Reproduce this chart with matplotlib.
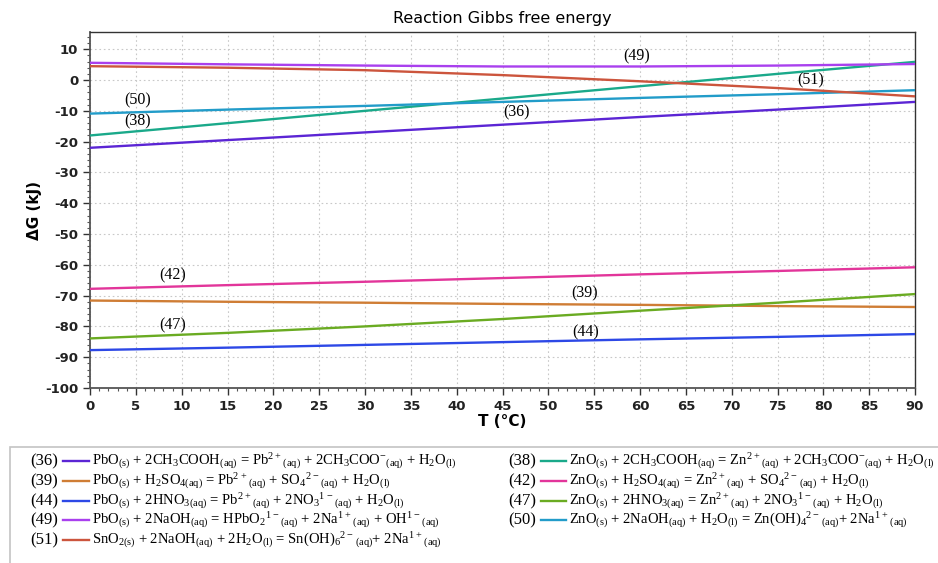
import matplotlib.pyplot as plt
import numpy as np
from matplotlib.lines import Line2D
from matplotlib.ticker import MultipleLocator

plt.rcParams['mathtext.default'] = 'regular'
plt.rcParams['axes.unicode_minus'] = False

# temperature (degC) and dG (kJ)
T = [0, 15, 30, 45, 60, 75, 90]
dG_36 = [-22.0, -19.5, -17.0, -14.5, -12.0, -9.6, -7.1]
dG_38 = [-18.0, -14.0, -10.0, -6.0, -2.0, 2.0, 5.9]
dG_39 = [-71.6, -72.0, -72.3, -72.7, -73.0, -73.4, -73.7]
dG_42 = [-67.8, -66.6, -65.5, -64.3, -63.1, -62.0, -60.8]
dG_44 = [-87.7, -86.9, -86.0, -85.1, -84.2, -83.4, -82.5]
dG_47 = [-83.9, -82.1, -80.0, -77.6, -74.9, -72.3, -69.5]
dG_49 = [5.6, 5.1, 4.7, 4.4, 4.4, 4.7, 5.2]
dG_50 = [-10.9, -9.6, -8.4, -7.1, -5.8, -4.6, -3.3]
dG_51 = [4.5, 4.0, 3.2, 1.6, -0.4, -2.6, -5.3]

ids = ['36', '38', '39', '42', '44', '47', '49', '50', '51']
series = [dG_36, dG_38, dG_39, dG_42, dG_44, dG_47, dG_49, dG_50, dG_51]
colors = ['#5b25d4', '#1aa98a', '#cf7d35', '#e2359a', '#2d48e6',
          '#6aab22', '#a940ee', '#229cc9', '#cc553d']

# label positions (T, dG)
lab_T = [46.5, 5.2, 53.9, 9.0, 54.1, 9.0, 59.6, 5.2, 78.6]
lab_G = [-10.6, -13.5, -69.3, -63.4, -82.1, -79.6, 7.7, -6.7, -0.1]

equations = {
    '36': r'PbO$_{(s)}$ + 2CH$_3$COOH$_{(aq)}$ = Pb$^{2+}$$_{(aq)}$ + 2CH$_3$COO$^{-}$$_{(aq)}$ + H$_2$O$_{(l)}$',
    '39': r'PbO$_{(s)}$ + H$_2$SO$_{4(aq)}$ = Pb$^{2+}$$_{(aq)}$ + SO$_4$$^{2-}$$_{(aq)}$ + H$_2$O$_{(l)}$',
    '44': r'PbO$_{(s)}$ + 2HNO$_{3(aq)}$ = Pb$^{2+}$$_{(aq)}$ + 2NO$_3$$^{1-}$$_{(aq)}$ + H$_2$O$_{(l)}$',
    '49': r'PbO$_{(s)}$ + 2NaOH$_{(aq)}$ = HPbO$_2$$^{1-}$$_{(aq)}$ + 2Na$^{1+}$$_{(aq)}$ + OH$^{1-}$$_{(aq)}$',
    '51': r'SnO$_{2(s)}$ + 2NaOH$_{(aq)}$ + 2H$_2$O$_{(l)}$ = Sn(OH)$_6$$^{2-}$$_{(aq)}$+ 2Na$^{1+}$$_{(aq)}$',
    '38': r'ZnO$_{(s)}$ + 2CH$_3$COOH$_{(aq)}$ = Zn$^{2+}$$_{(aq)}$ + 2CH$_3$COO$^{-}$$_{(aq)}$ + H$_2$O$_{(l)}$',
    '42': r'ZnO$_{(s)}$ + H$_2$SO$_{4(aq)}$ = Zn$^{2+}$$_{(aq)}$ + SO$_4$$^{2-}$$_{(aq)}$ + H$_2$O$_{(l)}$',
    '47': r'ZnO$_{(s)}$ + 2HNO$_{3(aq)}$ = Zn$^{2+}$$_{(aq)}$ + 2NO$_3$$^{1-}$$_{(aq)}$ + H$_2$O$_{(l)}$',
    '50': r'ZnO$_{(s)}$ + 2NaOH$_{(aq)}$ + H$_2$O$_{(l)}$ = Zn(OH)$_4$$^{2-}$$_{(aq)}$+ 2Na$^{1+}$$_{(aq)}$',
}
left_col = ['36', '39', '44', '49', '51']
right_col = ['38', '42', '47', '50']

fig = plt.figure(figsize=(9.38, 5.63), dpi=100)
W, H = 938, 563
ax = fig.add_axes([90 / W, 1 - 388 / H, 825 / W, (388 - 32) / H])

for i, s in enumerate(series):
    ax.plot(T, s, color=colors[i], lw=1.7, zorder=3)
    ax.text(lab_T[i], lab_G[i], '(' + ids[i] + ')', family='Liberation Serif',
            fontsize=11.5, ha='center', va='center', zorder=4)

ax.set_xlim(0, 90)
ax.set_ylim(-100, 15.6)
ax.xaxis.set_major_locator(MultipleLocator(5))
ax.xaxis.set_minor_locator(MultipleLocator(1))
ax.yaxis.set_major_locator(MultipleLocator(10))
ax.yaxis.set_minor_locator(MultipleLocator(2))
ax.grid(True, which='major', ls=(0, (1.5, 2.5)), color='#c8c8c8', lw=0.8)
ax.tick_params(which='major', length=5, width=1, color='#333333', labelsize=9.5)
ax.tick_params(which='minor', length=2.5, width=0.8, color='#555555')
for lb in ax.get_xticklabels() + ax.get_yticklabels():
    lb.set_fontweight('bold')
    lb.set_color('#222222')
for sp in ['top', 'right']:
    ax.spines[sp].set_color('#333333')
    ax.spines[sp].set_linewidth(1)
for sp in ['left', 'bottom']:
    ax.spines[sp].set_color('#555555')
    ax.spines[sp].set_linewidth(1.3)

ax.set_xlabel('T (°C)', fontsize=11, fontweight='bold', labelpad=1)
ax.set_ylabel('ΔG (kJ)', fontsize=11, fontweight='bold', labelpad=2)
fig.text(502 / W, 1 - 18 / H, 'Reaction Gibbs free energy', ha='center',
         va='center', fontsize=11.5)

# legend box
box = plt.Rectangle((10 / W, -0.05), 2, (1 - 447 / H) + 0.05, transform=fig.transFigure,
                    fill=False, edgecolor='#c4c4c4', lw=1.2)
fig.add_artist(box)

rows_y = [461, 481, 501, 520, 540]
cols = [(left_col, 30, 63, 89, 92), (right_col, 508, 541, 566, 569)]
for keys, xn, x0, x1, xt in cols:
    for k, key in enumerate(keys):
        y = 1 - rows_y[k] / H
        c = colors[ids.index(key)]
        fig.text(xn / W, y, '(' + key + ')', family='Liberation Serif', fontsize=12,
                 va='center', ha='left')
        fig.add_artist(Line2D([x0 / W, x1 / W], [y, y], color=c, lw=1.7,
                              transform=fig.transFigure))
        fig.text(xt / W, y, equations[key], family='Liberation Serif', fontsize=10.5,
                 va='center', ha='left')

fig.savefig('out.png', dpi=100)
